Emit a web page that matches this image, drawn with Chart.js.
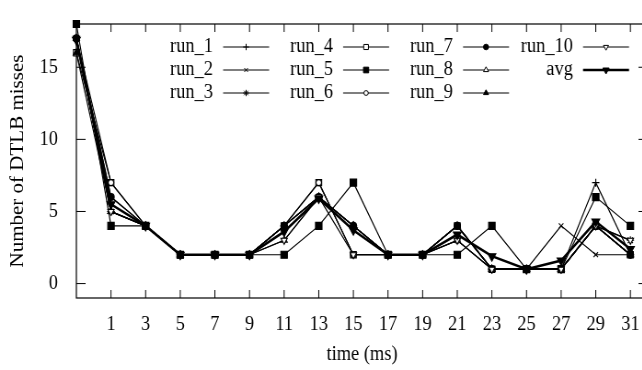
<!DOCTYPE html>
<html>
<head>
<meta charset="utf-8">
<title>DTLB misses</title>
<script src="https://cdn.jsdelivr.net/npm/chart.js@4.4.1/dist/chart.umd.min.js"></script>
<style>
  html, body { margin: 0; padding: 0; background: #fff; overflow: hidden; }
  #wrap { width: 642px; height: 370px; overflow: hidden; position: relative; }
  /* plot is laid out a bit wider and squeezed horizontally */
  #chart { position: absolute; left: 0; top: 0; transform: scaleX(0.92); transform-origin: 0 0; }
</style>
</head>
<body>
<div id="wrap"><canvas id="chart" width="720" height="370"></canvas></div>
<script>
// sample times (ms)
const times = [-1, 1, 3, 5, 7, 9, 11, 13, 15, 17, 19, 21, 23, 25, 27, 29, 31];
const xTicks = [1, 3, 5, 7, 9, 11, 13, 15, 17, 19, 21, 23, 25, 27, 29, 31];
const yTicks = [0, 5, 10, 15];

// DTLB misses per run
const run1  = [17, 5, 4, 2, 2, 2, 4, 6, 4, 2, 2, 4, 1, 1, 1, 7, 2];
const run2  = [17, 6, 4, 2, 2, 2, 4, 6, 4, 2, 2, 4, 1, 1, 4, 2, 2];
const run3  = [17, 5, 4, 2, 2, 2, 4, 6, 4, 2, 2, 4, 1, 1, 1, 4, 3];
const run4  = [16, 7, 4, 2, 2, 2, 4, 7, 2, 2, 2, 4, 1, 1, 1, 4, 2];
const run5  = [18, 4, 4, 2, 2, 2, 2, 4, 7, 2, 2, 2, 4, 1, 1, 6, 4];
const run6  = [17, 7, 4, 2, 2, 2, 4, 7, 2, 2, 2, 3, 1, 1, 1, 4, 2];
const run7  = [17, 6, 4, 2, 2, 2, 4, 6, 4, 2, 2, 4, 1, 1, 1, 4, 2];
const run8  = [17, 5, 4, 2, 2, 2, 3, 6, 4, 2, 2, 3, 1, 1, 1, 4, 2];
const run9  = [16, 5, 4, 2, 2, 2, 4, 6, 4, 2, 2, 4, 1, 1, 1, 4, 2];
const run10 = [17, 5, 4, 2, 2, 2, 3, 6, 2, 2, 2, 3, 1, 1, 1, 4, 3];
const avg   = [16.9, 5.5, 4, 2, 2, 2, 3.6, 5.9, 3.7, 2, 2, 3.4, 1.9, 1, 1.6, 4.3, 2.4];

const seriesNames = ['run_1', 'run_2', 'run_3', 'run_4', 'run_5', 'run_6', 'run_7', 'run_8', 'run_9', 'run_10', 'avg'];
const seriesData = [run1, run2, run3, run4, run5, run6, run7, run8, run9, run10, avg];

// gnuplot-like point types: [style, filled, radius, rotation]
const marks = [
  ['cross', false, 4, 0],
  ['crossRot', false, 3.5, 0],
  ['star', false, 4, 0],
  ['rect', false, 4.5, 0],
  ['rect', true, 5, 0],
  ['circle', false, 3, 0],
  ['circle', true, 3.5, 0],
  ['triangle', false, 4, 0],
  ['triangle', true, 4, 0],
  ['triangle', false, 4, 180],
  ['triangle', true, 5, 180]
];

const FONT = 'Liberation Serif';

const datasets = seriesNames.map((name, i) => {
  const [style, filled, r, rot] = marks[i];
  const isAvg = name === 'avg';
  return {
    label: name,
    data: times.map((t, k) => ({ x: t, y: seriesData[i][k] })),
    borderColor: '#000',
    backgroundColor: '#000',
    borderWidth: isAvg ? 2.5 : 1.2,
    pointStyle: style,
    pointRadius: r,
    pointRotation: rot,
    pointBorderWidth: 1.1,
    pointBackgroundColor: filled ? '#000' : '#fff',
    pointBorderColor: '#000',
    tension: 0,
    clip: false,
    order: isAvg ? 0 : 20 - i
  };
});

// border box with inward ticks on all four sides
const framePlugin = {
  id: 'frame',
  beforeDatasetsDraw(chart) {
    const { ctx, chartArea: a, scales } = chart;
    ctx.save();
    ctx.strokeStyle = '#000';
    ctx.lineWidth = 1;
    ctx.beginPath();
    scales.x.ticks.forEach(t => {
      const px = scales.x.getPixelForValue(t.value);
      ctx.moveTo(px, a.bottom); ctx.lineTo(px, a.bottom - 8);
      ctx.moveTo(px, a.top); ctx.lineTo(px, a.top + 8);
    });
    scales.y.ticks.forEach(t => {
      const py = scales.y.getPixelForValue(t.value);
      ctx.moveTo(a.left, py); ctx.lineTo(a.left + 10, py);
      ctx.moveTo(a.right, py); ctx.lineTo(a.right - 10, py);
    });
    ctx.stroke();
    ctx.lineWidth = 1.2;
    ctx.strokeRect(a.left, a.top, a.right - a.left, a.bottom - a.top);
    ctx.restore();
  }
};

// key in 4 columns, filled column by column
const keyPlugin = {
  id: 'key',
  afterDatasetsDraw(chart) {
    const { ctx, chartArea: a } = chart;
    ctx.save();
    ctx.font = '20px "' + FONT + '"';
    ctx.textAlign = 'right';
    ctx.textBaseline = 'middle';
    chart.data.datasets.forEach((ds, i) => {
      const col = Math.floor(i / 3), row = i % 3;
      const tx = a.left + 148.5 + col * 130.4;
      const ty = a.top + 23 + row * 23;
      ctx.fillStyle = '#000';
      ctx.fillText(ds.label, tx, ty);
      ctx.strokeStyle = '#000';
      ctx.lineWidth = ds.borderWidth;
      ctx.beginPath();
      ctx.moveTo(tx + 11, ty);
      ctx.lineTo(tx + 61, ty);
      ctx.stroke();
      ctx.lineWidth = 1;
      ctx.fillStyle = ds.pointBackgroundColor;
      Chart.helpers.drawPoint(ctx, {
        pointStyle: ds.pointStyle,
        radius: ds.pointRadius * 0.8,
        rotation: ds.pointRotation,
        borderWidth: 1
      }, tx + 36, ty);
    });
    ctx.restore();
  }
};

new Chart(document.getElementById('chart'), {
  type: 'line',
  data: { datasets },
  options: {
    responsive: false,
    animation: false,
    events: [],
    layout: { autoPadding: false, padding: { top: 9, right: 16, left: 0, bottom: 0 } },
    plugins: { legend: { display: false }, tooltip: { enabled: false } },
    scales: {
      x: {
        type: 'linear',
        min: -1,
        max: 32,
        afterBuildTicks: s => { s.ticks = xTicks.map(v => ({ value: v })); },
        afterFit: s => { s.height = 72; },
        grid: { display: false },
        border: { display: false },
        ticks: { color: '#000', padding: 7, maxRotation: 0, autoSkip: false, font: { family: FONT, size: 20 } },
        title: { display: true, text: 'time (ms)', color: '#000', padding: { top: 3, bottom: 3 }, font: { family: FONT, size: 20 } }
      },
      y: {
        min: -1,
        max: 18,
        afterBuildTicks: s => { s.ticks = yTicks.map(v => ({ value: v })); },
        afterFit: s => { s.width = 83; },
        grid: { display: false },
        border: { display: false },
        ticks: { color: '#000', padding: 12, font: { family: FONT, size: 20 } },
        title: { display: true, text: 'Number of DTLB misses', color: '#000', padding: { top: 7, bottom: 7 }, font: { family: FONT, size: 21 } }
      }
    }
  },
  plugins: [framePlugin, keyPlugin]
});
</script>
</body>
</html>
